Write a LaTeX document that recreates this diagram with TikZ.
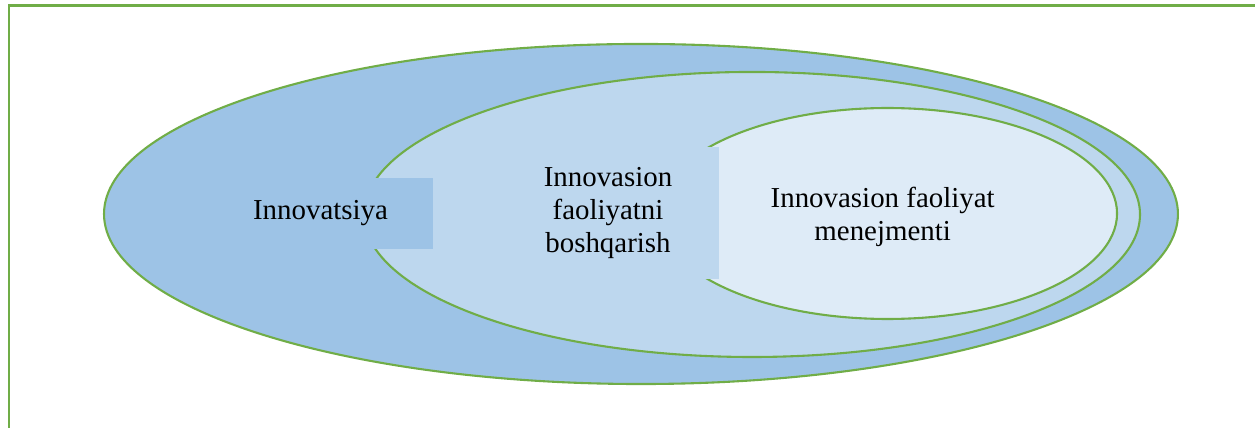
\documentclass[tikz,border=0pt]{standalone}
\usepackage{fontspec}
\setmainfont{Liberation Serif}
\usepackage{tikz}
\usetikzlibrary{shapes.geometric}
\definecolor{leafgreen}{HTML}{70AD47}
\definecolor{bluedark}{HTML}{9DC3E6}
\definecolor{bluemid}{HTML}{BDD7EE}
\definecolor{bluelight}{HTML}{DEEBF7}
\tikzset{
    ring/.style={shape=ellipse, draw=leafgreen, line width=0.85pt, inner sep=0pt},
    tagbox/.style={shape=rectangle, inner sep=0pt, align=center,
        font=\fontsize{11.75}{13.4}\selectfont}}

\begin{document}
\begin{tikzpicture}

            \useasboundingbox (0,0) rectangle (17.929,-6.114);
            \clip (0,0) rectangle (17.929,-6.114);
            \draw[leafgreen, line width=1.1pt] (0.129,-0.079) rectangle (18.5,-6.6);

            \node[ring, fill=bluedark, minimum width=15.342cm, minimum height=4.858cm] (outer) at (9.157,-3.057) {};
            \node[ring, fill=bluemid, minimum width=11.086cm, minimum height=4.072cm] (mid) at (10.743,-3.064) {};
            \node[tagbox, fill=bluedark, minimum width=3.214cm, minimum height=1.014cm] (innov) at (4.579,-3.05) {Innovatsiya};
            \node[ring, fill=bluelight, minimum width=6.558cm, minimum height=3.014cm] (inner) at (12.679,-3.05) {};
            \node[tagbox, fill=bluemid, minimum width=3.171cm, minimum height=1.886cm] (manage) at (8.686,-3.043) {Innovasion\\faoliyatni\\boshqarish};
            \node[tagbox] (menej) at (12.61,-3.1) {Innovasion faoliyat\\menejmenti};

        \end{tikzpicture}
\end{document}
